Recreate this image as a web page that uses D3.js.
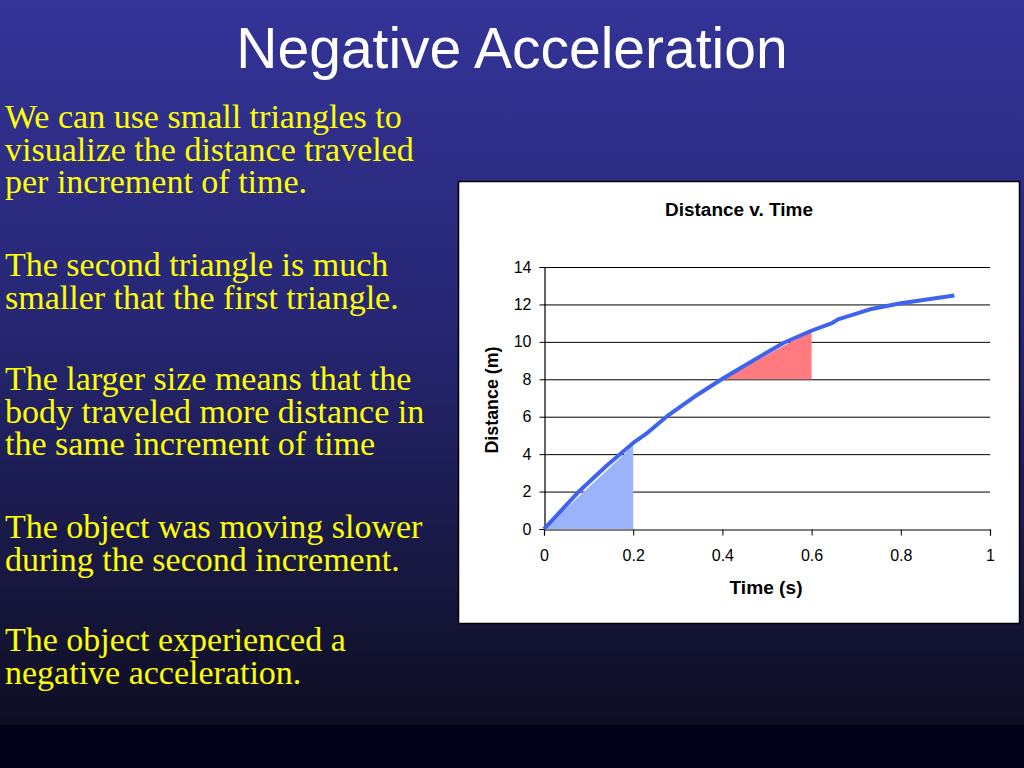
<!DOCTYPE html>
<html lang="en">
<head>
<meta charset="utf-8">
<title>Negative Acceleration</title>
<script src="https://d3js.org/d3.v7.min.js"></script>
<style>
  body { margin: 0; background: #000018; }
  svg { display: block; }
</style>
</head>
<body>
<div id="slide"></div>
<script>

/* Data */
/* ==== */

var timeValues     = [0, 0.079, 0.139, 0.2, 0.232, 0.276, 0.345, 0.401, 0.473, 0.538, 0.598, 0.647, 0.659, 0.731, 0.8, 0.92];
var distanceValues = [0, 2.02, 3.35, 4.6, 5.14, 6.03, 7.19, 8.04, 9.06, 9.95, 10.58, 11.02, 11.2, 11.74, 12.06, 12.48];

var firstTriangle  = [[0, 0], [0.2, 4.45], [0.2, 0]];
var secondTriangle = [[0.4, 8], [0.6, 10.6], [0.6, 8]];

var xTicks = [0, 0.2, 0.4, 0.6, 0.8, 1];
var yTicks = [0, 2, 4, 6, 8, 10, 12, 14];

var titleText = 'Negative Acceleration';
var paragraphs = [
  ['We can use small triangles to', 'visualize the distance traveled', 'per increment of time.'],
  ['The second triangle is much', 'smaller that the first triangle.'],
  ['The larger size means that the', 'body traveled more distance in', 'the same increment of time'],
  ['The object was moving slower', 'during the second increment.'],
  ['The object experienced a', 'negative acceleration.']
];
var paragraphTops = [128, 276, 390, 538, 651];


/* Slide */
/* ===== */

var width = 1024,
    height = 768;

var svg = d3.select('#slide').append('svg')
  .attr('width', width)
  .attr('height', height);

var grad = svg.append('defs').append('linearGradient')
  .attr('id', 'bg')
  .attr('x1', 0).attr('y1', 0).attr('x2', 0).attr('y2', 1);
grad.append('stop').attr('offset', '0%').attr('stop-color', '#343499');
grad.append('stop').attr('offset', '45%').attr('stop-color', '#262673');
grad.append('stop').attr('offset', '100%').attr('stop-color', '#0e0e22');

svg.append('rect')
  .attr('width', width).attr('height', 725)
  .attr('fill', 'url(#bg)');
svg.append('rect')
  .attr('y', 725).attr('width', width).attr('height', height - 725)
  .attr('fill', '#02021a');

svg.append('text')
  .attr('x', 512).attr('y', 68)
  .attr('text-anchor', 'middle')
  .attr('fill', '#fff')
  .style('font-family', 'Liberation Sans, Arial, sans-serif')
  .style('font-size', '57px')
  .text(titleText);

// Bullet text
paragraphs.forEach(function(lines, i) {
  var t = svg.append('text')
    .attr('fill', '#ffff00')
    .style('font-family', 'Liberation Serif, Times New Roman, serif')
    .style('font-size', '34px');
  lines.forEach(function(line, j) {
    t.append('tspan')
      .attr('x', 5)
      .attr('y', paragraphTops[i] + j * 32.7)
      .text(line);
  });
});


/* Chart */
/* ===== */

var box = { x: 458, y: 181, w: 561, h: 442 };

svg.append('rect')
  .attr('x', box.x + 0.5).attr('y', box.y + 0.5)
  .attr('width', box.w).attr('height', box.h)
  .attr('fill', '#fff')
  .attr('stroke', '#000')
  .attr('stroke-width', 1.5);

var x = d3.scaleLinear().domain([0, 1]).range([544, 990]);
var y = d3.scaleLinear().domain([0, 14]).range([529, 267]);

var chart = svg.append('g')
  .style('font-family', 'Liberation Sans, Arial, sans-serif');

// Gridlines
chart.append('g')
  .selectAll('line')
  .data(yTicks.slice(1))
  .join('line')
    .attr('x1', x(0)).attr('x2', x(1))
    .attr('y1', function(d) { return y(d) + 0.5; })
    .attr('y2', function(d) { return y(d) + 0.5; })
    .attr('stroke', '#000');

// Triangles
var area = d3.line()
  .x(function(d) { return x(d[0]); })
  .y(function(d) { return y(d[1]); });

chart.append('path')
  .attr('d', area(firstTriangle) + 'Z')
  .attr('fill', '#9ab3fb');

chart.append('path')
  .attr('d', area(secondTriangle) + 'Z')
  .attr('fill', '#ff7b7f');

// Axes
var yAxis = chart.append('g')
  .attr('transform', 'translate(' + (x(0) + 0.5) + ',0)')
  .call(d3.axisLeft(y).tickValues(yTicks).tickSize(5).tickPadding(8).tickFormat(d3.format('d')));

var xAxis = chart.append('g')
  .attr('transform', 'translate(0,' + (y(0) + 0.5) + ')')
  .call(d3.axisBottom(x).tickValues(xTicks).tickSize(6).tickPadding(14).tickFormat(function(d) { return d; }));

[xAxis, yAxis].forEach(function(a) {
  a.select('.domain').attr('stroke', '#000').attr('stroke-width', 1.2);
  a.selectAll('.tick line').attr('stroke', '#000');
  a.selectAll('.tick text')
    .attr('fill', '#000')
    .style('font-family', 'Liberation Sans, Arial, sans-serif')
    .style('font-size', '16px');
});

// Curve
var line = d3.line()
  .x(function(d, i) { return x(timeValues[i]); })
  .y(function(d) { return y(d); });

chart.append('path')
  .datum(distanceValues)
  .attr('d', line)
  .attr('fill', 'none')
  .attr('stroke', '#3d63ef')
  .attr('stroke-width', 4)
  .attr('stroke-linejoin', 'round');

// Titles
chart.append('text')
  .attr('x', 739).attr('y', 216)
  .attr('text-anchor', 'middle')
  .attr('textLength', 148)
  .attr('lengthAdjust', 'spacingAndGlyphs')
  .style('font-size', '17.5px')
  .style('font-weight', 'bold')
  .text('Distance v. Time');

chart.append('text')
  .attr('x', 766).attr('y', 594)
  .attr('text-anchor', 'middle')
  .attr('textLength', 73)
  .attr('lengthAdjust', 'spacingAndGlyphs')
  .style('font-size', '18px')
  .style('font-weight', 'bold')
  .text('Time (s)');

chart.append('text')
  .attr('transform', 'translate(498,400) rotate(-90)')
  .attr('text-anchor', 'middle')
  .attr('textLength', 107)
  .attr('lengthAdjust', 'spacingAndGlyphs')
  .style('font-size', '18px')
  .style('font-weight', 'bold')
  .text('Distance (m)');

</script>
</body>
</html>
